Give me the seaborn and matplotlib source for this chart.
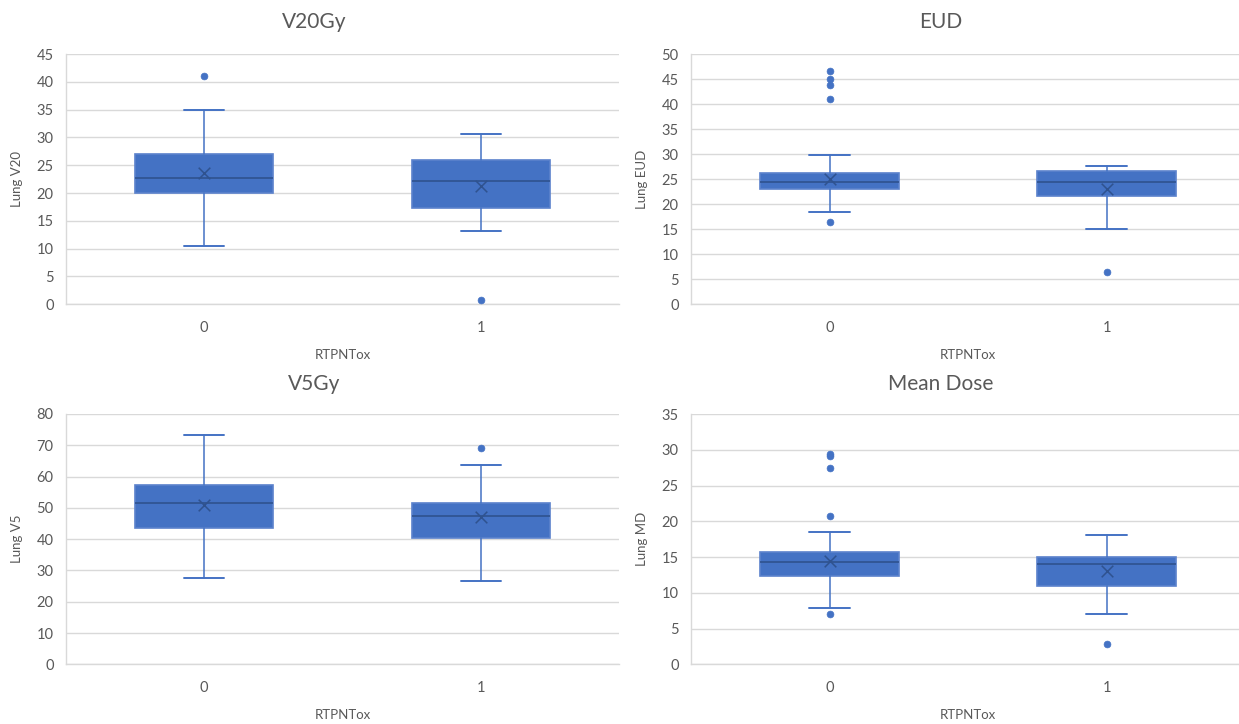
import matplotlib
matplotlib.use("Agg")
import matplotlib.pyplot as plt
import seaborn as sns
import pandas as pd

# Group labels on the x axis
groups = ["0", "1"]

# Five-number summaries, means and outliers per panel (group 0, group 1)
v20_low = [10.5, 13.2]
v20_q1 = [20.0, 17.25]
v20_med = [22.7, 22.1]
v20_q3 = [27.1, 25.9]
v20_high = [35.0, 30.7]
v20_mean = [23.6, 21.2]
v20_out = [[41.0], [0.8]]

eud_low = [18.4, 15.0]
eud_q1 = [23.0, 21.6]
eud_med = [24.5, 24.4]
eud_q3 = [26.2, 26.6]
eud_high = [29.9, 27.6]
eud_mean = [25.0, 23.0]
eud_out = [[46.7, 45.1, 43.9, 41.0, 16.5], [6.5]]

v5_low = [27.5, 26.5]
v5_q1 = [43.7, 40.5]
v5_med = [51.45, 47.3]
v5_q3 = [57.2, 51.5]
v5_high = [73.4, 63.8]
v5_mean = [51.0, 47.2]
v5_out = [[], [69.1]]

md_low = [7.83, 7.0]
md_q1 = [12.35, 10.95]
md_med = [14.26, 14.0]
md_q3 = [15.66, 14.96]
md_high = [18.55, 18.13]
md_mean = [14.4, 13.0]
md_out = [[29.35, 29.1, 27.5, 20.7, 7.0], [2.8]]

panels = [
    dict(title="V20Gy", ylabel="Lung V20", ymax=45, step=5,
         low=v20_low, q1=v20_q1, med=v20_med, q3=v20_q3, high=v20_high,
         mean=v20_mean, out=v20_out),
    dict(title="EUD", ylabel="Lung EUD", ymax=50, step=5,
         low=eud_low, q1=eud_q1, med=eud_med, q3=eud_q3, high=eud_high,
         mean=eud_mean, out=eud_out),
    dict(title="V5Gy", ylabel="Lung V5", ymax=80, step=10,
         low=v5_low, q1=v5_q1, med=v5_med, q3=v5_q3, high=v5_high,
         mean=v5_mean, out=v5_out),
    dict(title="Mean Dose", ylabel="Lung MD", ymax=35, step=5,
         low=md_low, q1=md_q1, med=md_med, q3=md_q3, high=md_high,
         mean=md_mean, out=md_out),
]

sns.set_theme(style="whitegrid")
plt.rcParams["font.family"] = ["Lato", "DejaVu Sans"]

W, H = 1239, 724
BLUE = "#4472C4"
DARK = "#2F528F"
GRID = "#D9D9D9"
TEXT = "#595959"

fig = plt.figure(figsize=(W / 100, H / 100), dpi=100)
fig.patch.set_facecolor("white")

# Plot-area rectangles in pixels: left, right, top, bottom
rects = [(66, 619, 54, 304.3), (691, 1239, 54, 304.3),
         (66, 619, 414, 664.3), (691, 1239, 414, 664.3)]
title_x = [314, 941, 314, 941]
title_y = [22, 22, 384, 384]

for p, (l, r, t, b), tx, ty in zip(panels, rects, title_x, title_y):
    ax = fig.add_axes([l / W, 1 - b / H, (r - l) / W, (b - t) / H])
    full_width = 277 * 2
    xmax = -0.5 + 2 * (r - l) / full_width if (r - l) < full_width - 2 else 1.5

    stats = []
    for i, g in enumerate(groups):
        stats.append(dict(label=g, whislo=p["low"][i], q1=p["q1"][i], med=p["med"][i],
                          q3=p["q3"][i], whishi=p["high"][i], mean=p["mean"][i], fliers=[]))
    ax.bxp(stats, positions=[0, 1], widths=0.5, capwidths=0.145, showfliers=False,
           showmeans=False, patch_artist=True,
           boxprops=dict(facecolor=BLUE, edgecolor="#5B82CC", linewidth=1.2),
           medianprops=dict(color=DARK, linewidth=1.2),
           whiskerprops=dict(color=BLUE, linewidth=1.1),
           capprops=dict(color=BLUE, linewidth=1.4), zorder=3)

    mean_df = pd.DataFrame({"x": [0, 1], "y": p["mean"]})
    sns.scatterplot(data=mean_df, x="x", y="y", marker="x", s=70, color=DARK,
                    linewidth=1.1, ax=ax, zorder=4, legend=False)

    ox, oy = [], []
    for i, vals in enumerate(p["out"]):
        ox += [i] * len(vals)
        oy += vals
    out_df = pd.DataFrame({"x": ox, "y": oy})
    sns.scatterplot(data=out_df, x="x", y="y", marker="o", s=24, color=BLUE,
                    edgecolor=BLUE, linewidth=0.5, ax=ax, zorder=4, legend=False)

    ax.set_xlim(-0.5, xmax)
    ax.set_ylim(0, p["ymax"])
    ax.set_yticks(range(0, p["ymax"] + 1, p["step"]))
    ax.set_xticks([0, 1])
    ax.set_xticklabels(groups)
    ax.set_facecolor("white")
    ax.grid(axis="y", color=GRID, linewidth=1.0)
    ax.grid(axis="x", visible=False)
    for side in ["top", "right"]:
        ax.spines[side].set_visible(False)
    for side in ["left", "bottom"]:
        ax.spines[side].set_color(GRID)
        ax.spines[side].set_linewidth(1.0)
    ax.tick_params(axis="both", length=0, labelsize=10.5, labelcolor=TEXT)
    ax.tick_params(axis="y", pad=9)
    ax.tick_params(axis="x", pad=12)

    ax.set_ylabel(p["ylabel"], fontsize=9.5, color=TEXT)
    ax.yaxis.set_label_coords(-43 / (r - l), 0.5)
    ax.set_xlabel("RTPNTox", fontsize=9.5, color=TEXT, va="center")
    ax.xaxis.set_label_coords(0.5 * full_width / (r - l) if xmax < 1.5 else 0.5,
                              -(355 - 304.3) / (b - t))

    fig.text(tx / W, 1 - ty / H, p["title"], ha="center", va="center",
             fontsize=15, color=TEXT)

fig.savefig("out.png", dpi=100, facecolor="white")
